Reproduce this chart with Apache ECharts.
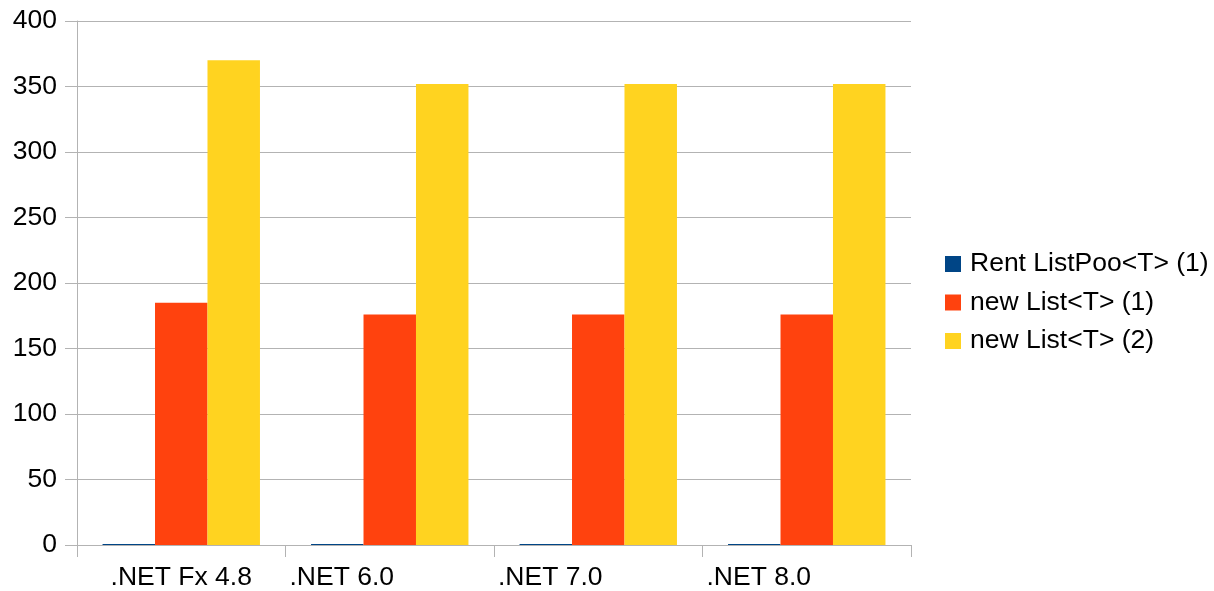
<!DOCTYPE html>
<html>
<head>
<meta charset="utf-8">
<script src="https://cdn.jsdelivr.net/npm/echarts@6/dist/echarts.min.js"></script>
<style>
  html, body { margin: 0; padding: 0; background: #fff; }
  #chart { width: 1214px; height: 591px; }
</style>
</head>
<body>
<div id="chart"></div>
<script>
// Runtimes compared
const categories = ['.NET Fx 4.8', '.NET 6.0', '.NET 7.0', '.NET 8.0'];

// Series names and values
const seriesNames = ['Rent ListPoo<T> (1)', 'new List<T> (1)', 'new List<T> (2)'];
const rentListPool = [0.8, 0.8, 0.8, 0.8];
const newList1 = [185, 176, 176, 176];
const newList2 = [370, 352, 352, 352];

// Value axis ticks
const yMin = 0;
const yMax = 400;
const yStep = 50;

const colors = ['#004586', '#ff420e', '#ffd320'];
const font = '"Liberation Sans", Arial, sans-serif';
const fontSize = 26.5;

const chart = echarts.init(document.getElementById('chart'), null, { renderer: 'canvas' });

const categoryData = categories.map(function (name, i) {
  return i === 0 ? name : { value: name, textStyle: { padding: [0, 96, 0, 0] } };
});

const values = [rentListPool, newList1, newList2];

chart.setOption({
  animation: false,
  backgroundColor: '#ffffff',
  color: colors,
  grid: { left: 77, right: 303, top: 21, bottom: 45, containLabel: false },
  legend: {
    orient: 'vertical',
    left: 940,
    top: 244,
    icon: 'rect',
    itemWidth: 16,
    itemHeight: 16,
    itemGap: 8.5,
    data: seriesNames,
    textStyle: {
      fontFamily: font,
      fontSize: fontSize,
      color: '#000',
      lineHeight: 30,
      padding: [0, 0, 0, 4]
    }
  },
  xAxis: {
    type: 'category',
    data: categoryData,
    boundaryGap: true,
    axisLine: { show: true, lineStyle: { color: '#b3b3b3', width: 1 } },
    axisTick: { show: true, length: 12, lineStyle: { color: '#b3b3b3' } },
    axisLabel: {
      fontFamily: font,
      fontSize: fontSize,
      color: '#000',
      margin: 19,
      interval: 0
    },
    splitLine: { show: false }
  },
  yAxis: {
    type: 'value',
    min: yMin,
    max: yMax,
    interval: yStep,
    axisLine: { show: true, lineStyle: { color: '#b3b3b3', width: 1 } },
    axisTick: { show: true, length: 12, lineStyle: { color: '#b3b3b3' } },
    axisLabel: {
      fontFamily: font,
      fontSize: fontSize,
      color: '#000',
      margin: 20
    },
    splitLine: { show: true, lineStyle: { color: '#b3b3b3', width: 1 } }
  },
  series: seriesNames.map(function (name, i) {
    return {
      name: name,
      type: 'bar',
      data: values[i],
      barGap: '0%',
      barCategoryGap: '24.5%',
      itemStyle: { color: colors[i] }
    };
  })
});
</script>
</body>
</html>
